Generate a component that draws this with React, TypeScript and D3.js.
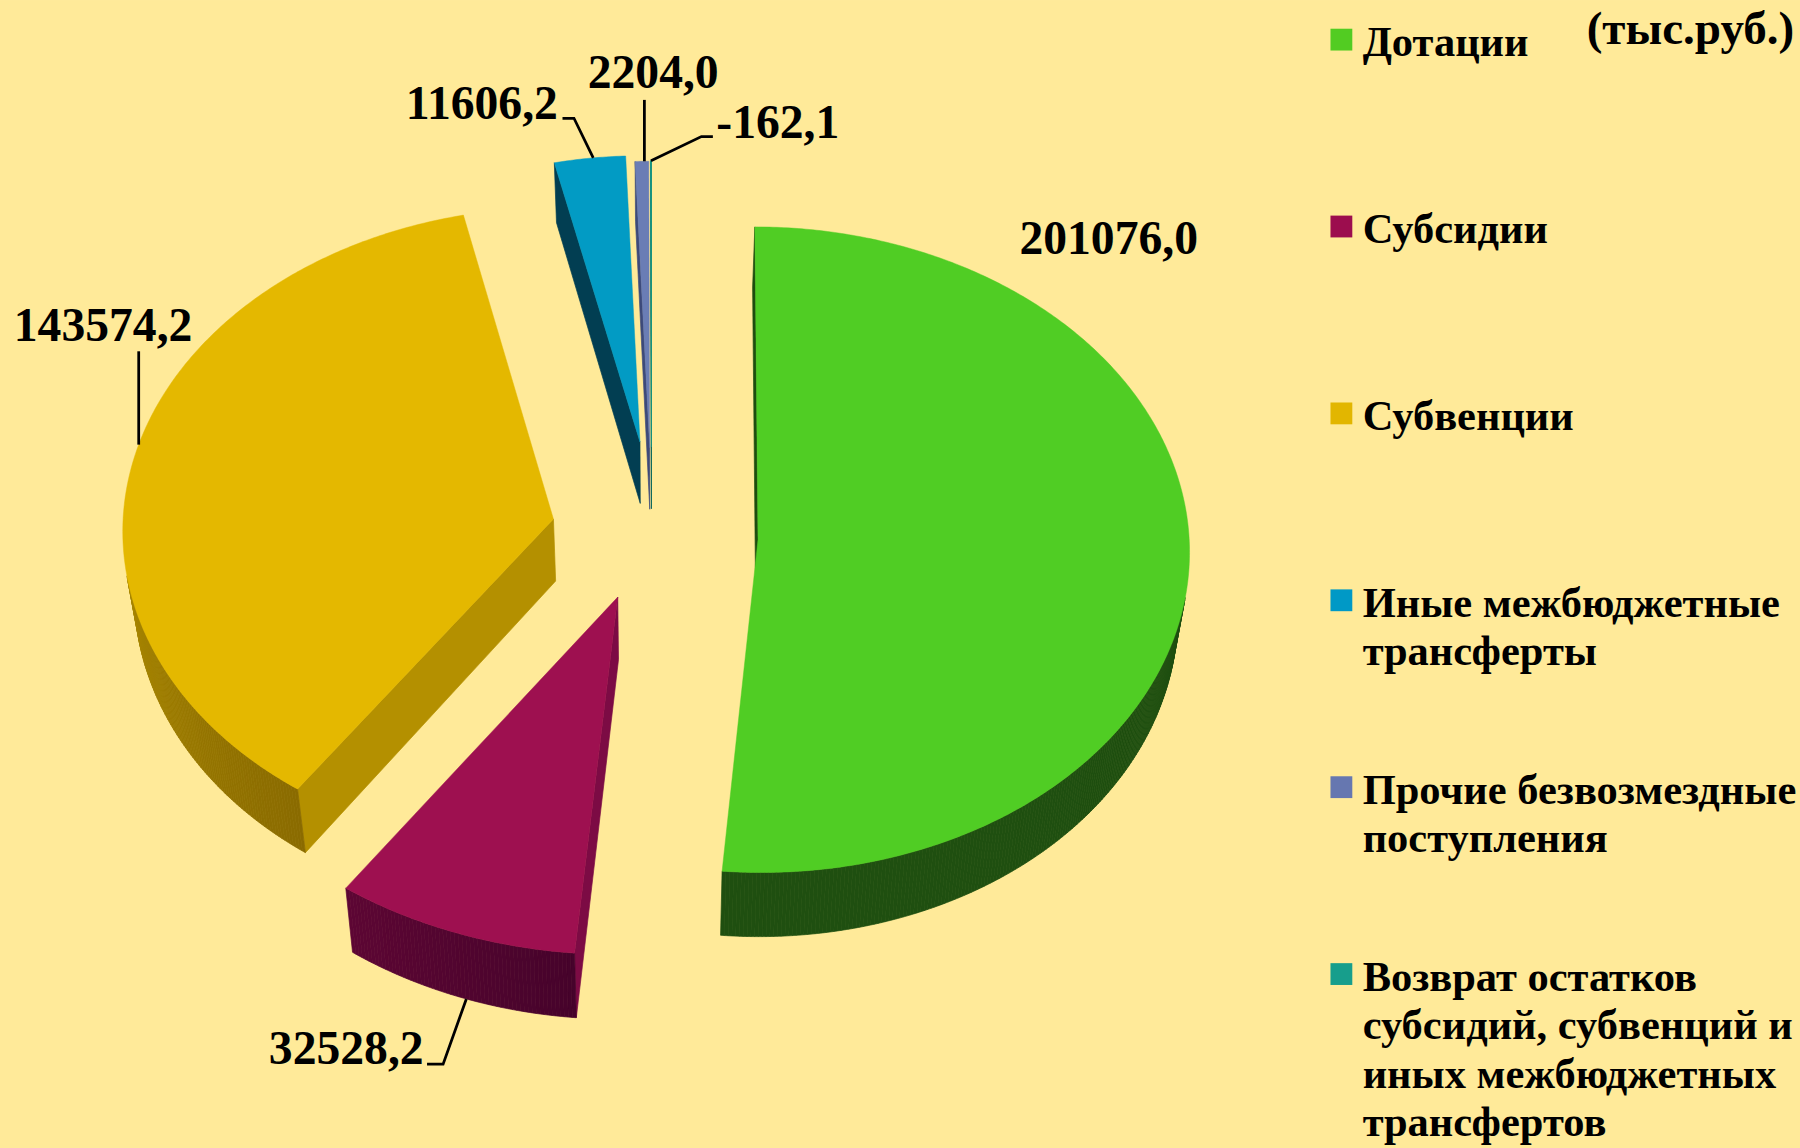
import React from "react";
import * as d3 from "d3";

// ---------- data ----------
const categories = [
  "Дотации",
  "Субсидии",
  "Субвенции",
  "Иные межбюджетные трансферты",
  "Прочие безвозмездные поступления",
  "Возврат остатков субсидий, субвенций и иных межбюджетных трансфертов",
];
const values = [201076.0, 32528.2, 143574.2, 11606.2, 2204.0, -162.1];
const legendLines = [
  ["Дотации"],
  ["Субсидии"],
  ["Субвенции"],
  ["Иные межбюджетные", "трансферты"],
  ["Прочие безвозмездные", "поступления"],
  ["Возврат остатков", "субсидий, субвенций и", "иных межбюджетных", "трансфертов"],
];
const unitLabel = "(тыс.руб.)";

// ---------- styles ----------
const topColors = ["#50CD24", "#9E1050", "#E4B800", "#029BC4", "#6A7DB5", "#17A08C"];
const legendColors = ["#52CC22", "#9C0D4E", "#E2B600", "#0099C6", "#6677B0", "#179E8C"];
const wallColors = ["#1E4D10", "#7C0B44", "#B49000", "#023E52", "#3D4A7A", "#0E6B5C"];
const sideColors = [
  ["#1F4F10", "#1F4F10"],
  ["#46032B", "#5D0634"],
  ["#8A6B00", "#B08D00"],
  ["#013A4E", "#013A4E"],
  ["#333E66", "#333E66"],
  ["#0B5A4E", "#0B5A4E"],
];
// explode (distance in radius units, direction in degrees), radius multiplier
const explodeDist = [0.249, 0.245, 0.232, 0.254, 0.234, 0.236];
const explodeDir = [102.5, 199.5, 272.5, 353, 358, 359];
const radiusMul = [1.0, 1.06, 1.0, 0.93, 0.93, 0.93];

// projection constants (viewBox units 1568x1000)
const CX = 569, CY = 455, SX = 375, SY = 280, PERSP = 0.031, THICK = 54, CONV = 0.022;
const BG = "#FFEA99";
const FONT = "'Liberation Serif', 'Times New Roman', serif";

// label layout: text position + leader (NaN x = same x as the anchor)
type Lbl = { x: number; y: number; anchor: string; at?: number; edge?: "top" | "bottom"; pts?: [number, number][] };
const labelLayout: Lbl[] = [
  { x: 888, y: 221, anchor: "start" },
  { x: 369, y: 927, anchor: "end", at: 199, edge: "bottom", pts: [[386, 927], [372, 927]] },
  { x: 12, y: 297, anchor: "start", at: 283.5, edge: "top", pts: [[NaN, 306]] },
  { x: 486, y: 104, anchor: "end", at: 353, edge: "top", pts: [[500, 103], [490, 103]] },
  { x: 569, y: 77, anchor: "middle", at: 359.2, edge: "top", pts: [[NaN, 87]] },
  { x: 624, y: 120, anchor: "start", at: 359.93, edge: "top", pts: [[611, 119], [621, 119]] },
];

const fmt = (v: number) => d3.format(".1f")(v).replace(".", ",").replace("−", "-");

function project(qx: number, qz: number, bottom: boolean): [number, number] {
  const f = 1 / (1 + PERSP * qz);
  let X = CX + SX * qx * f;
  let Y = CY - SY * qz * f;
  if (bottom) {
    Y += THICK * f;
    X += (CX - X) * CONV;
  }
  return [X, Y];
}

function area(p: [number, number][]) {
  let s = 0;
  for (let i = 0; i < p.length; i++) {
    const a = p[i], b = p[(i + 1) % p.length];
    s += a[0] * b[1] - b[0] * a[1];
  }
  return s / 2;
}

const line = d3.line().curve(d3.curveLinearClosed);
const openLine = d3.line();

export default function App() {
  const pie = d3.pie<number>().value((d) => Math.abs(d)).sort(null).startAngle(0).endAngle(2 * Math.PI);
  const arcs = pie(values);

  const slices = arcs.map((a, i) => {
    const m = (explodeDir[i] * Math.PI) / 180;
    const ax = explodeDist[i] * Math.sin(m);
    const az = explodeDist[i] * Math.cos(m);
    const s = radiusMul[i];
    const pt = (th: number, r: number, bottom: boolean) =>
      project(ax + s * r * Math.sin(th), az + s * r * Math.cos(th), bottom);
    const a0 = a.startAngle, a1 = a.endAngle;
    const n = Math.max(2, Math.ceil(((a1 - a0) * 180) / Math.PI / 0.5));
    const ths = d3.range(n + 1).map((k) => a0 + ((a1 - a0) * k) / n);
    const topArc = ths.map((t) => pt(t, 1, false));
    const botArc = ths.map((t) => pt(t, 1, true));
    const At = pt(0, 0, false), Ab = pt(0, 0, true);
    const faces: { d: string; fill: string }[] = [];
    const w0: [number, number][] = [At, topArc[0], botArc[0], Ab];
    if (area(w0) < 0) faces.push({ d: line(w0)!, fill: wallColors[i] });
    const w1: [number, number][] = [At, Ab, botArc[n], topArc[n]];
    if (area(w1) < 0) faces.push({ d: line(w1)!, fill: wallColors[i] });
    const ramp = d3.interpolateRgb(sideColors[i][0], sideColors[i][1]);
    const rampSpan = Math.min(a1 - a0, Math.PI / 3);
    for (let k = 0; k < n; k++) {
      const q: [number, number][] = [topArc[k], topArc[k + 1], botArc[k + 1], botArc[k]];
      if (area(q) < 0) {
        const t = Math.min(1, (ths[k] - a0) / rampSpan);
        faces.push({ d: line(q)!, fill: ramp(t) });
      }
    }
    const top = line([At, ...topArc])!;
    return { i, az, faces, top, pt };
  });

  const order = [...slices].sort((p, q) => q.az - p.az);

  return (
    <svg
      width={1800}
      height={1148}
      viewBox="0 0 1568 1000"
      style={{ position: "absolute", left: 0, top: 0, display: "block", fontFamily: FONT, fontWeight: "bold" }}
    >
      <rect x={0} y={0} width={1568} height={1000} fill={BG} />
      {order.map((sl) => (
        <g key={sl.i}>
          {sl.faces.map((f, k) => (
            <path key={k} d={f.d} fill={f.fill} stroke={f.fill} strokeWidth={0.6} strokeLinejoin="round" />
          ))}
          <path d={sl.top} fill={topColors[sl.i]} stroke={topColors[sl.i]} strokeWidth={0.4} />
        </g>
      ))}
      {labelLayout.map((l, i) => {
        let leader = null;
        if (l.at !== undefined && l.pts) {
          const anchor = slices[i].pt((l.at * Math.PI) / 180, 1, l.edge === "bottom");
          const pts = l.pts.map((p) => [isNaN(p[0]) ? anchor[0] : p[0], p[1]] as [number, number]);
          leader = <path d={openLine([anchor, ...pts])!} fill="none" stroke="#000" strokeWidth={2.4} />;
        }
        return (
          <g key={"l" + i}>
            {leader}
            <text x={l.x} y={l.y} textAnchor={l.anchor} fontSize={41.5} fill="#000">
              {fmt(values[i])}
            </text>
          </g>
        );
      })}
      <text x={1563} y={38} textAnchor="end" fontSize={41} fill="#000">
        {unitLabel}
      </text>
      {categories.map((c, i) => {
        const base = 49 + i * 162.8;
        return (
          <g key={"lg" + i}>
            <rect x={1159} y={base - 24} width={19} height={19} fill={legendColors[i]} />
            <text x={1187} y={base} fontSize={37} fill="#000">
              {legendLines[i].map((ln, k) => (
                <tspan key={k} x={1187} y={base + k * 42.3}>
                  {ln}
                </tspan>
              ))}
            </text>
          </g>
        );
      })}
    </svg>
  );
}
